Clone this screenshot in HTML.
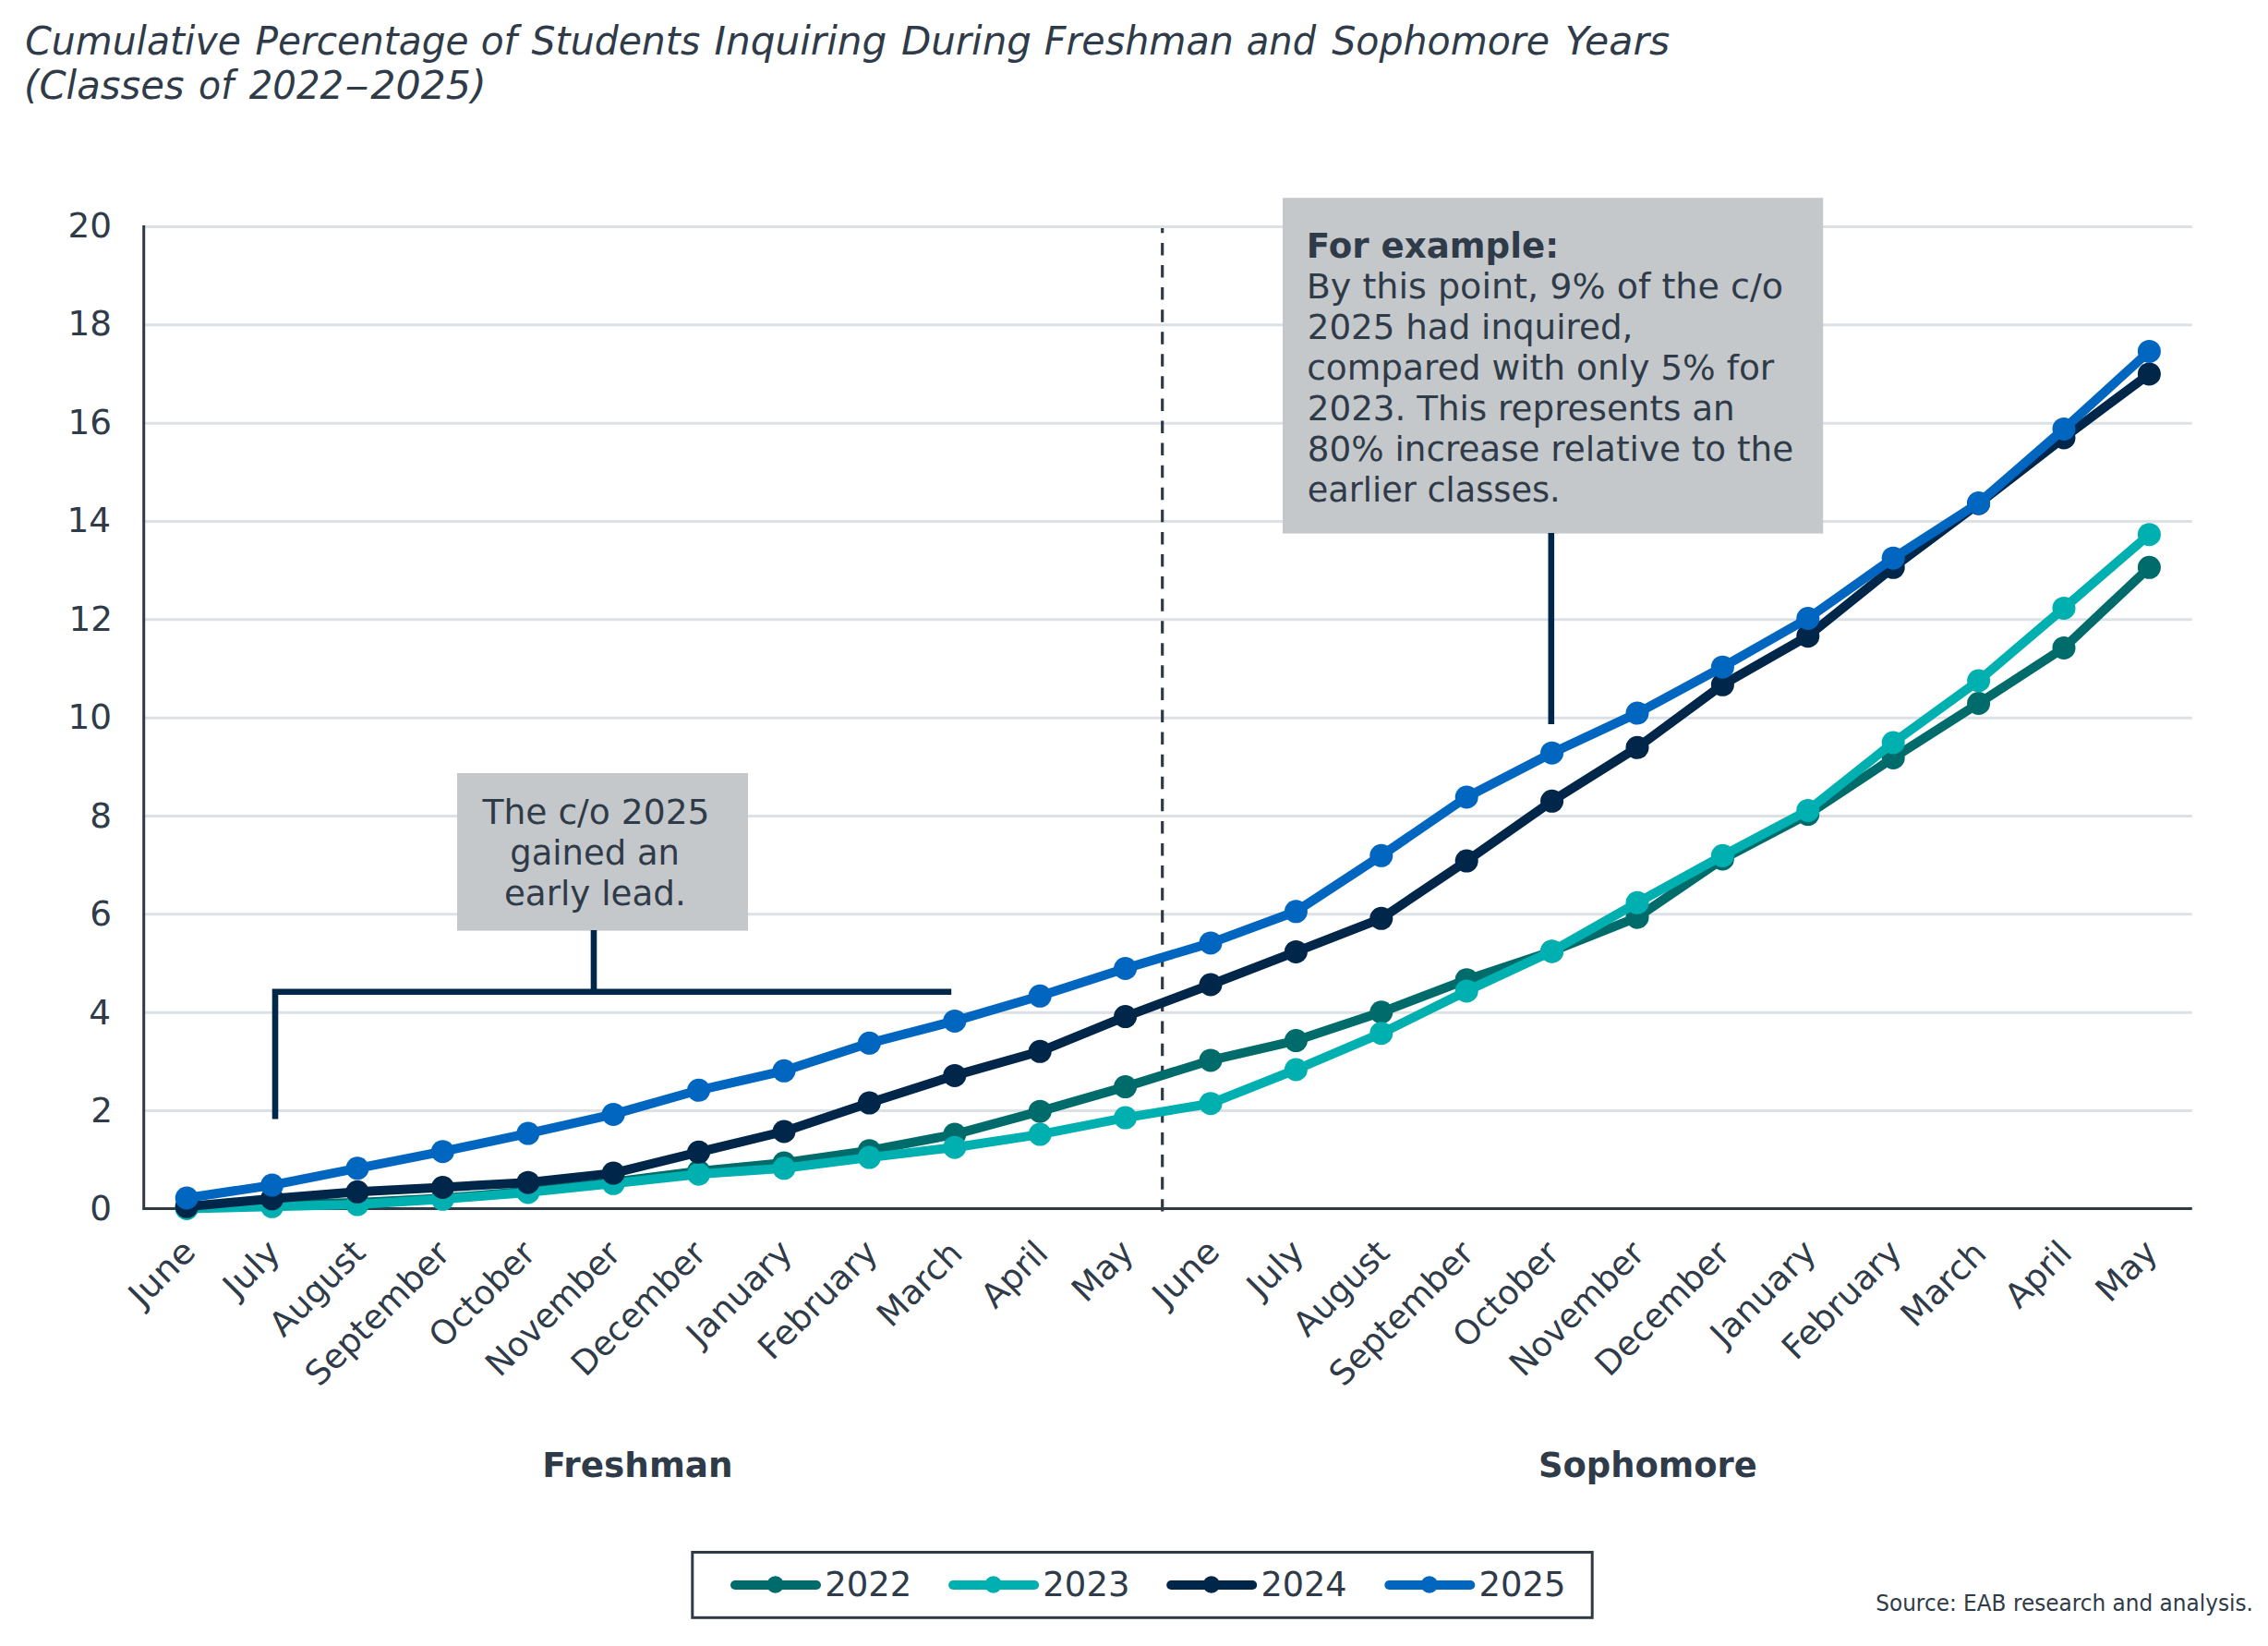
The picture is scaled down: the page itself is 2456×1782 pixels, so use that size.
<!DOCTYPE html>
<html lang="en"><head><meta charset="utf-8"><title>Cumulative Percentage of Students Inquiring</title>
<style>html,body{margin:0;padding:0;background:#fff}body{width:2456px;height:1782px;overflow:hidden}svg{display:block}text{font-family:"DejaVu Sans", "Liberation Sans", sans-serif;fill:#2f3b48}</style>
</head><body>
<svg width="2456" height="1782" viewBox="0 0 2456 1782">
<rect width="2456" height="1782" fill="#fff"/>
<g aria-label="Cumulative Percentage of Students Inquiring During Freshman and Sophomore Years">
<text transform="translate(27.22 58.50) scale(0.9752 1)" font-size="42.0" font-style="italic">Cumulative</text>
<text transform="translate(276.53 58.50) scale(0.9676 1)" font-size="42.0" font-style="italic">Percentage</text>
<text transform="translate(520.63 58.50) scale(0.9694 1)" font-size="42.0" font-style="italic">of</text>
<text transform="translate(575.60 58.50) scale(0.9757 1)" font-size="42.0" font-style="italic">Students</text>
<text transform="translate(773.60 58.50) scale(1.0032 1)" font-size="42.0" font-style="italic">Inquiring</text>
<text transform="translate(975.90 58.50) scale(0.9992 1)" font-size="42.0" font-style="italic">During</text>
<text transform="translate(1130.72 58.50) scale(0.9814 1)" font-size="42.0" font-style="italic">Freshman</text>
<text transform="translate(1349.85 58.50) scale(0.9521 1)" font-size="42.0" font-style="italic">and</text>
<text transform="translate(1442.20 58.50) scale(0.9782 1)" font-size="42.0" font-style="italic">Sophomore</text>
<text transform="translate(1694.77 58.50) scale(1.0148 1)" font-size="42.0" font-style="italic">Years</text>
</g>
<g aria-label="(Classes of 2022–2025)">
<text transform="translate(26.12 107.00) scale(0.9940 1)" font-size="42.0" font-style="italic">(Classes</text>
<text transform="translate(215.06 107.00) scale(0.9366 1)" font-size="42.0" font-style="italic">of</text>
<text transform="translate(269.80 107.00) scale(0.9566 1)" font-size="42.0" font-style="italic">2022</text>
<text transform="translate(373.34 107.00) scale(1.2632 1)" font-size="42.0" font-style="italic">–</text>
<text transform="translate(401.20 107.00) scale(1.0185 1)" font-size="42.0" font-style="italic">2025)</text>
</g>
<g stroke="#dce1e6" stroke-width="3">
<line x1="157" x2="2373.8" y1="1202.50" y2="1202.50"/>
<line x1="157" x2="2373.8" y1="1096.16" y2="1096.16"/>
<line x1="157" x2="2373.8" y1="989.83" y2="989.83"/>
<line x1="157" x2="2373.8" y1="883.50" y2="883.50"/>
<line x1="157" x2="2373.8" y1="777.16" y2="777.16"/>
<line x1="157" x2="2373.8" y1="670.83" y2="670.83"/>
<line x1="157" x2="2373.8" y1="564.50" y2="564.50"/>
<line x1="157" x2="2373.8" y1="458.17" y2="458.17"/>
<line x1="157" x2="2373.8" y1="351.83" y2="351.83"/>
<line x1="157" x2="2373.8" y1="245.50" y2="245.50"/>
</g>
<text transform="translate(97.33 1321.40) scale(0.9850 1)" font-size="38.0">0</text>
<text transform="translate(98.31 1214.95) scale(0.9850 1)" font-size="38.0">2</text>
<text transform="translate(96.34 1108.50) scale(0.9850 1)" font-size="38.0">4</text>
<text transform="translate(97.33 1002.05) scale(0.9850 1)" font-size="38.0">6</text>
<text transform="translate(97.33 895.60) scale(0.9850 1)" font-size="38.0">8</text>
<text transform="translate(73.52 789.15) scale(0.9850 1)" font-size="38.0">10</text>
<text transform="translate(74.50 682.70) scale(0.9850 1)" font-size="38.0">12</text>
<text transform="translate(72.53 576.25) scale(0.9850 1)" font-size="38.0">14</text>
<text transform="translate(73.52 469.80) scale(0.9850 1)" font-size="38.0">16</text>
<text transform="translate(73.52 363.35) scale(0.9850 1)" font-size="38.0">18</text>
<text transform="translate(73.52 256.90) scale(0.9850 1)" font-size="38.0">20</text>
<path d="M155.7 244 V1308.4 H2373.8" fill="none" stroke="#2e3a46" stroke-width="3"/>
<line x1="1258.7" x2="1258.7" y1="246.9" y2="1311.4" stroke="#2e3a46" stroke-width="3.2" stroke-dasharray="13.5 10.577" stroke-dashoffset="8.08"/>
<rect x="1389" y="214.2" width="585.2" height="363.4" fill="#c5c8cb"/>
<rect x="495" y="837" width="315" height="170.6" fill="#c5c8cb"/>
<g fill="none" stroke="#00264a" stroke-width="6.6">
<path d="M1679.8 577 V784"/>
<path d="M643 1007 V1073.8"/>
<path d="M298 1211.5 V1073.8 H1030.2"/>
</g>
<g fill="#006b6b" stroke="none"><polyline points="202.2,1307.3 294.6,1304.1 387.0,1302.0 479.4,1297.2 571.8,1289.8 664.2,1279.7 756.6,1268.0 849.0,1259.0 941.4,1245.7 1033.8,1228.1 1126.2,1203.2 1218.6,1176.6 1311.0,1147.9 1403.4,1126.6 1495.8,1095.8 1588.2,1060.7 1680.6,1029.9 1773.0,993.2 1865.4,930.0 1957.8,881.6 2050.2,820.5 2142.6,761.5 2235.0,701.4 2327.4,614.3" fill="none" stroke="#006b6b" stroke-width="10" stroke-linejoin="round" stroke-linecap="round"/>
<circle cx="202.2" cy="1307.3" r="12.5"/>
<circle cx="294.6" cy="1304.1" r="12.5"/>
<circle cx="387.0" cy="1302.0" r="12.5"/>
<circle cx="479.4" cy="1297.2" r="12.5"/>
<circle cx="571.8" cy="1289.8" r="12.5"/>
<circle cx="664.2" cy="1279.7" r="12.5"/>
<circle cx="756.6" cy="1268.0" r="12.5"/>
<circle cx="849.0" cy="1259.0" r="12.5"/>
<circle cx="941.4" cy="1245.7" r="12.5"/>
<circle cx="1033.8" cy="1228.1" r="12.5"/>
<circle cx="1126.2" cy="1203.2" r="12.5"/>
<circle cx="1218.6" cy="1176.6" r="12.5"/>
<circle cx="1311.0" cy="1147.9" r="12.5"/>
<circle cx="1403.4" cy="1126.6" r="12.5"/>
<circle cx="1495.8" cy="1095.8" r="12.5"/>
<circle cx="1588.2" cy="1060.7" r="12.5"/>
<circle cx="1680.6" cy="1029.9" r="12.5"/>
<circle cx="1773.0" cy="993.2" r="12.5"/>
<circle cx="1865.4" cy="930.0" r="12.5"/>
<circle cx="1957.8" cy="881.6" r="12.5"/>
<circle cx="2050.2" cy="820.5" r="12.5"/>
<circle cx="2142.6" cy="761.5" r="12.5"/>
<circle cx="2235.0" cy="701.4" r="12.5"/>
<circle cx="2327.4" cy="614.3" r="12.5"/>
</g>
<g fill="#00b0b0" stroke="none"><polyline points="202.2,1308.4 294.6,1306.3 387.0,1304.1 479.4,1298.3 571.8,1290.9 664.2,1281.3 756.6,1271.2 849.0,1264.8 941.4,1253.1 1033.8,1242.2 1126.2,1228.1 1218.6,1210.1 1311.0,1194.7 1403.4,1158.0 1495.8,1118.7 1588.2,1072.9 1680.6,1029.9 1773.0,977.3 1865.4,926.3 1957.8,877.4 2050.2,804.0 2142.6,737.0 2235.0,658.4 2327.4,578.7" fill="none" stroke="#00b0b0" stroke-width="10" stroke-linejoin="round" stroke-linecap="round"/>
<circle cx="202.2" cy="1308.4" r="12.5"/>
<circle cx="294.6" cy="1306.3" r="12.5"/>
<circle cx="387.0" cy="1304.1" r="12.5"/>
<circle cx="479.4" cy="1298.3" r="12.5"/>
<circle cx="571.8" cy="1290.9" r="12.5"/>
<circle cx="664.2" cy="1281.3" r="12.5"/>
<circle cx="756.6" cy="1271.2" r="12.5"/>
<circle cx="849.0" cy="1264.8" r="12.5"/>
<circle cx="941.4" cy="1253.1" r="12.5"/>
<circle cx="1033.8" cy="1242.2" r="12.5"/>
<circle cx="1126.2" cy="1228.1" r="12.5"/>
<circle cx="1218.6" cy="1210.1" r="12.5"/>
<circle cx="1311.0" cy="1194.7" r="12.5"/>
<circle cx="1403.4" cy="1158.0" r="12.5"/>
<circle cx="1495.8" cy="1118.7" r="12.5"/>
<circle cx="1588.2" cy="1072.9" r="12.5"/>
<circle cx="1680.6" cy="1029.9" r="12.5"/>
<circle cx="1773.0" cy="977.3" r="12.5"/>
<circle cx="1865.4" cy="926.3" r="12.5"/>
<circle cx="1957.8" cy="877.4" r="12.5"/>
<circle cx="2050.2" cy="804.0" r="12.5"/>
<circle cx="2142.6" cy="737.0" r="12.5"/>
<circle cx="2235.0" cy="658.4" r="12.5"/>
<circle cx="2327.4" cy="578.7" r="12.5"/>
</g>
<g fill="#00264a" stroke="none"><polyline points="202.2,1306.3 294.6,1297.8 387.0,1290.3 479.4,1285.5 571.8,1280.2 664.2,1270.1 756.6,1247.3 849.0,1225.0 941.4,1194.1 1033.8,1164.4 1126.2,1138.3 1218.6,1100.6 1311.0,1066.0 1403.4,1030.4 1495.8,994.3 1588.2,932.1 1680.6,867.3 1773.0,809.3 1865.4,741.3 1957.8,688.7 2050.2,614.3 2142.6,545.2 2235.0,473.9 2327.4,404.9" fill="none" stroke="#00264a" stroke-width="10" stroke-linejoin="round" stroke-linecap="round"/>
<circle cx="202.2" cy="1306.3" r="12.5"/>
<circle cx="294.6" cy="1297.8" r="12.5"/>
<circle cx="387.0" cy="1290.3" r="12.5"/>
<circle cx="479.4" cy="1285.5" r="12.5"/>
<circle cx="571.8" cy="1280.2" r="12.5"/>
<circle cx="664.2" cy="1270.1" r="12.5"/>
<circle cx="756.6" cy="1247.3" r="12.5"/>
<circle cx="849.0" cy="1225.0" r="12.5"/>
<circle cx="941.4" cy="1194.1" r="12.5"/>
<circle cx="1033.8" cy="1164.4" r="12.5"/>
<circle cx="1126.2" cy="1138.3" r="12.5"/>
<circle cx="1218.6" cy="1100.6" r="12.5"/>
<circle cx="1311.0" cy="1066.0" r="12.5"/>
<circle cx="1403.4" cy="1030.4" r="12.5"/>
<circle cx="1495.8" cy="994.3" r="12.5"/>
<circle cx="1588.2" cy="932.1" r="12.5"/>
<circle cx="1680.6" cy="867.3" r="12.5"/>
<circle cx="1773.0" cy="809.3" r="12.5"/>
<circle cx="1865.4" cy="741.3" r="12.5"/>
<circle cx="1957.8" cy="688.7" r="12.5"/>
<circle cx="2050.2" cy="614.3" r="12.5"/>
<circle cx="2142.6" cy="545.2" r="12.5"/>
<circle cx="2235.0" cy="473.9" r="12.5"/>
<circle cx="2327.4" cy="404.9" r="12.5"/>
</g>
<g fill="#0066c0" stroke="none"><polyline points="202.2,1297.0 294.6,1283.1 387.0,1264.8 479.4,1246.7 571.8,1227.1 664.2,1206.4 756.6,1180.3 849.0,1159.3 941.4,1129.3 1033.8,1105.4 1126.2,1078.3 1218.6,1048.5 1311.0,1020.9 1403.4,986.8 1495.8,926.3 1588.2,863.0 1680.6,815.2 1773.0,772.1 1865.4,722.2 1957.8,669.5 2050.2,604.2 2142.6,544.6 2235.0,464.4 2327.4,380.4" fill="none" stroke="#0066c0" stroke-width="10" stroke-linejoin="round" stroke-linecap="round"/>
<circle cx="202.2" cy="1297.0" r="12.5"/>
<circle cx="294.6" cy="1283.1" r="12.5"/>
<circle cx="387.0" cy="1264.8" r="12.5"/>
<circle cx="479.4" cy="1246.7" r="12.5"/>
<circle cx="571.8" cy="1227.1" r="12.5"/>
<circle cx="664.2" cy="1206.4" r="12.5"/>
<circle cx="756.6" cy="1180.3" r="12.5"/>
<circle cx="849.0" cy="1159.3" r="12.5"/>
<circle cx="941.4" cy="1129.3" r="12.5"/>
<circle cx="1033.8" cy="1105.4" r="12.5"/>
<circle cx="1126.2" cy="1078.3" r="12.5"/>
<circle cx="1218.6" cy="1048.5" r="12.5"/>
<circle cx="1311.0" cy="1020.9" r="12.5"/>
<circle cx="1403.4" cy="986.8" r="12.5"/>
<circle cx="1495.8" cy="926.3" r="12.5"/>
<circle cx="1588.2" cy="863.0" r="12.5"/>
<circle cx="1680.6" cy="815.2" r="12.5"/>
<circle cx="1773.0" cy="772.1" r="12.5"/>
<circle cx="1865.4" cy="722.2" r="12.5"/>
<circle cx="1957.8" cy="669.5" r="12.5"/>
<circle cx="2050.2" cy="604.2" r="12.5"/>
<circle cx="2142.6" cy="544.6" r="12.5"/>
<circle cx="2235.0" cy="464.4" r="12.5"/>
<circle cx="2327.4" cy="380.4" r="12.5"/>
</g>
<text transform="translate(1414.73 278.90) scale(1.0221 1)" font-size="36.4" font-weight="bold">For example:</text>
<text transform="translate(1414.66 322.80) scale(1.0458 1)" font-size="36.4">By this point, 9% of the c/o</text>
<text transform="translate(1415.75 366.80) scale(1.0226 1)" font-size="36.4">2025 had inquired,</text>
<text transform="translate(1415.14 410.80) scale(1.0310 1)" font-size="36.4">compared with only 5% for</text>
<text transform="translate(1415.75 454.80) scale(1.0233 1)" font-size="36.4">2023. This represents an</text>
<text transform="translate(1415.75 498.80) scale(1.0242 1)" font-size="36.4">80% increase relative to the</text>
<text transform="translate(1415.79 542.80) scale(1.0069 1)" font-size="36.4">earlier classes.</text>
<text transform="translate(522.43 892.20) scale(1.0347 1)" font-size="36.4">The c/o 2025</text>
<text transform="translate(552.27 936.20) scale(1.0146 1)" font-size="36.4">gained an</text>
<text transform="translate(545.95 980.20) scale(1.0232 1)" font-size="36.4">early lead.</text>
<text transform="translate(212.70 1358.50) rotate(-45) scale(1.0500 1)" x="-78.32" font-size="36.7">June</text>
<text transform="translate(305.10 1358.50) rotate(-45) scale(1.0500 1)" x="-65.27" font-size="36.7">July</text>
<text transform="translate(397.50 1358.50) rotate(-45) scale(1.0000 1)" x="-128.00" font-size="36.7">August</text>
<text transform="translate(489.90 1358.50) rotate(-45) scale(1.0000 1)" x="-203.70" font-size="36.7">September</text>
<text transform="translate(582.30 1358.50) rotate(-45) scale(0.9800 1)" x="-147.74" font-size="36.7">October</text>
<text transform="translate(674.70 1358.50) rotate(-45) scale(0.9850 1)" x="-191.77" font-size="36.7">November</text>
<text transform="translate(767.10 1358.50) rotate(-45) scale(0.9850 1)" x="-191.16" font-size="36.7">December</text>
<text transform="translate(859.50 1358.50) rotate(-45) scale(1.0300 1)" x="-138.37" font-size="36.7">January</text>
<text transform="translate(951.90 1358.50) rotate(-45) scale(1.0100 1)" x="-161.86" font-size="36.7">February</text>
<text transform="translate(1042.50 1361.00) rotate(-45) scale(1.0000 1)" x="-109.58" font-size="36.7">March</text>
<text transform="translate(1134.70 1361.30) rotate(-45) scale(1.0000 1)" x="-80.66" font-size="36.7">April</text>
<text transform="translate(1229.10 1358.50) rotate(-45) scale(1.0000 1)" x="-75.14" font-size="36.7">May</text>
<text transform="translate(1321.50 1358.50) rotate(-45) scale(1.0500 1)" x="-78.32" font-size="36.7">June</text>
<text transform="translate(1413.90 1358.50) rotate(-45) scale(1.0500 1)" x="-65.27" font-size="36.7">July</text>
<text transform="translate(1506.30 1358.50) rotate(-45) scale(1.0000 1)" x="-128.00" font-size="36.7">August</text>
<text transform="translate(1598.70 1358.50) rotate(-45) scale(1.0000 1)" x="-203.70" font-size="36.7">September</text>
<text transform="translate(1691.10 1358.50) rotate(-45) scale(0.9800 1)" x="-147.74" font-size="36.7">October</text>
<text transform="translate(1783.50 1358.50) rotate(-45) scale(0.9850 1)" x="-191.77" font-size="36.7">November</text>
<text transform="translate(1875.90 1358.50) rotate(-45) scale(0.9850 1)" x="-191.16" font-size="36.7">December</text>
<text transform="translate(1968.30 1358.50) rotate(-45) scale(1.0300 1)" x="-138.37" font-size="36.7">January</text>
<text transform="translate(2060.70 1358.50) rotate(-45) scale(1.0100 1)" x="-161.86" font-size="36.7">February</text>
<text transform="translate(2151.30 1361.00) rotate(-45) scale(1.0000 1)" x="-109.58" font-size="36.7">March</text>
<text transform="translate(2243.50 1361.30) rotate(-45) scale(1.0000 1)" x="-80.66" font-size="36.7">April</text>
<text transform="translate(2337.90 1358.50) rotate(-45) scale(1.0000 1)" x="-75.14" font-size="36.7">May</text>
<text transform="translate(587.25 1599.20) scale(1.0176 1)" font-size="36.7" font-weight="bold">Freshman</text>
<text transform="translate(1665.89 1599.20) scale(1.0054 1)" font-size="36.7" font-weight="bold">Sophomore</text>
<rect x="749.8" y="1680.5" width="974.4" height="70.8" fill="#fff" stroke="#2e3a46" stroke-width="3"/>
<line x1="796.0" x2="884.0" y1="1716" y2="1716" stroke="#006b6b" stroke-width="10" stroke-linecap="round"/>
<circle cx="839.6" cy="1715.5" r="9.3" fill="#006b6b"/>
<text transform="translate(893.22 1728.30) scale(0.9893 1)" font-size="37.4">2022</text>
<line x1="1032.1" x2="1120.1" y1="1716" y2="1716" stroke="#00b0b0" stroke-width="10" stroke-linecap="round"/>
<circle cx="1075.7" cy="1715.5" r="9.3" fill="#00b0b0"/>
<text transform="translate(1129.32 1728.30) scale(0.9893 1)" font-size="37.4">2023</text>
<line x1="1268.2" x2="1356.2" y1="1716" y2="1716" stroke="#00264a" stroke-width="10" stroke-linecap="round"/>
<circle cx="1311.8" cy="1715.5" r="9.3" fill="#00264a"/>
<text transform="translate(1365.44 1728.30) scale(0.9785 1)" font-size="37.4">2024</text>
<line x1="1504.3" x2="1592.3" y1="1716" y2="1716" stroke="#0066c0" stroke-width="10" stroke-linecap="round"/>
<circle cx="1547.9" cy="1715.5" r="9.3" fill="#0066c0"/>
<text transform="translate(1601.52 1728.30) scale(0.9893 1)" font-size="37.4">2025</text>
<text transform="translate(2031.25 1743.80) scale(0.9547 1)" font-size="24.3">Source: EAB research and analysis.</text>
</svg></body></html>
